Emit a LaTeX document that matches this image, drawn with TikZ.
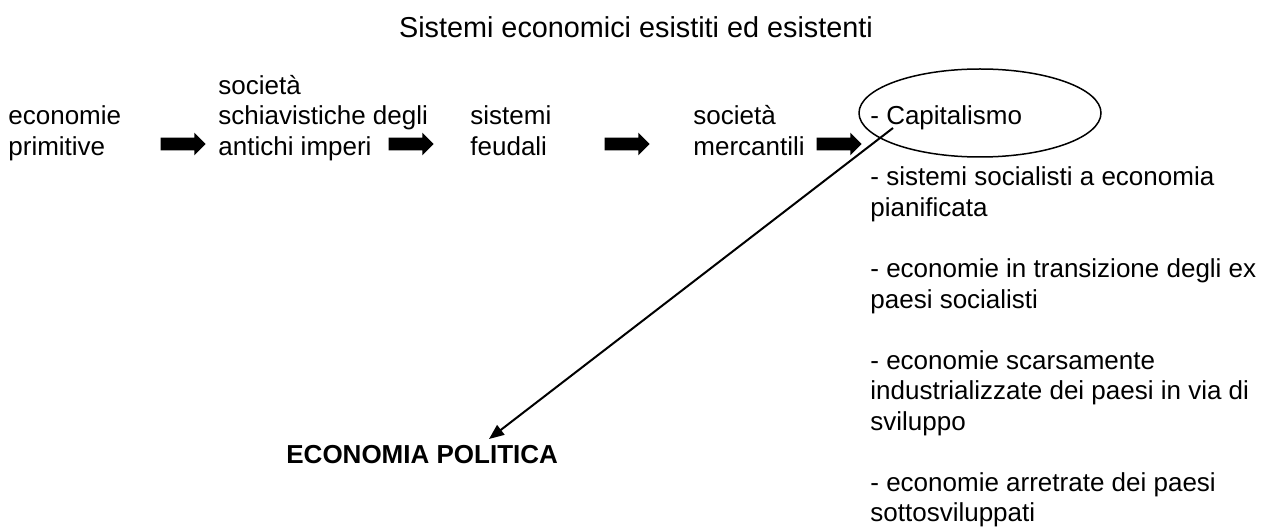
\documentclass[tikz,border=0pt]{standalone}
\usepackage{fontspec}
\setmainfont{Liberation Sans}
\usepackage{tikz}
\usetikzlibrary{arrows.meta,positioning,shapes.geometric,shapes.arrows}

\begin{document}
\begin{tikzpicture}[x=0.5pt,y=-0.5pt, every node/.style={font=\fontsize{13pt}{15.25pt}\selectfont}, t/.style={anchor=base west,align=left,inner sep=0pt}, blk/.style={single arrow,fill=black,inner sep=0pt,inner ysep=3pt,minimum height=22.5pt,single arrow head extend=2.5pt}, a/.style={-{Triangle[length=7.5pt,width=6pt]},line width=1pt}]
\useasboundingbox (0,0) rectangle (1274,529);
% base anchor of a multi-line node sits on its last line
\node[anchor=base,inner sep=0pt,font=\fontsize{14.4pt}{17pt}\selectfont] (title) at (636,38) {Sistemi economici esistiti ed esistenti};
\node[t] (prim) at (8,155.5) {economie\\primitive};
\node[t] (schiav) at (218,155.5) {società\\schiavistiche degli\\antichi imperi};
\node[t] (feud) at (470,155.5) {sistemi\\feudali};
\node[t] (merc) at (693,155.5) {società\\mercantili};
\node[t] (capit) at (870,125) {- Capitalismo};
\node[draw,ellipse,line width=0.75pt,minimum width=121pt,minimum height=44pt] (oval) at (980,113) {};
\node[blk] (ar1) at (180,144) {};
\node[blk] (ar2) at (408,144) {};
\node[blk] (ar3) at (624,144) {};
\node[blk] (ar4) at (836,144) {};
\node[t] (soc) at (870,216.5) {- sistemi socialisti a economia\\pianificata};
\node[t] (trans) at (870,308) {- economie in transizione degli ex\\paesi socialisti};
\node[t] (scars) at (870,430) {- economie scarsamente\\industrializzate dei paesi in via di\\sviluppo};
\node[t] (arretr) at (870,521.5) {- economie arretrate dei paesi\\sottosviluppati};
\node[t,font=\fontsize{13pt}{15.25pt}\selectfont\bfseries] (ep) at (286,463) {ECONOMIA POLITICA};
\coordinate (c0) at (893,128);
\coordinate (tip) at (489,439);
\draw[a] (c0) -- (tip);
\end{tikzpicture}
\end{document}
